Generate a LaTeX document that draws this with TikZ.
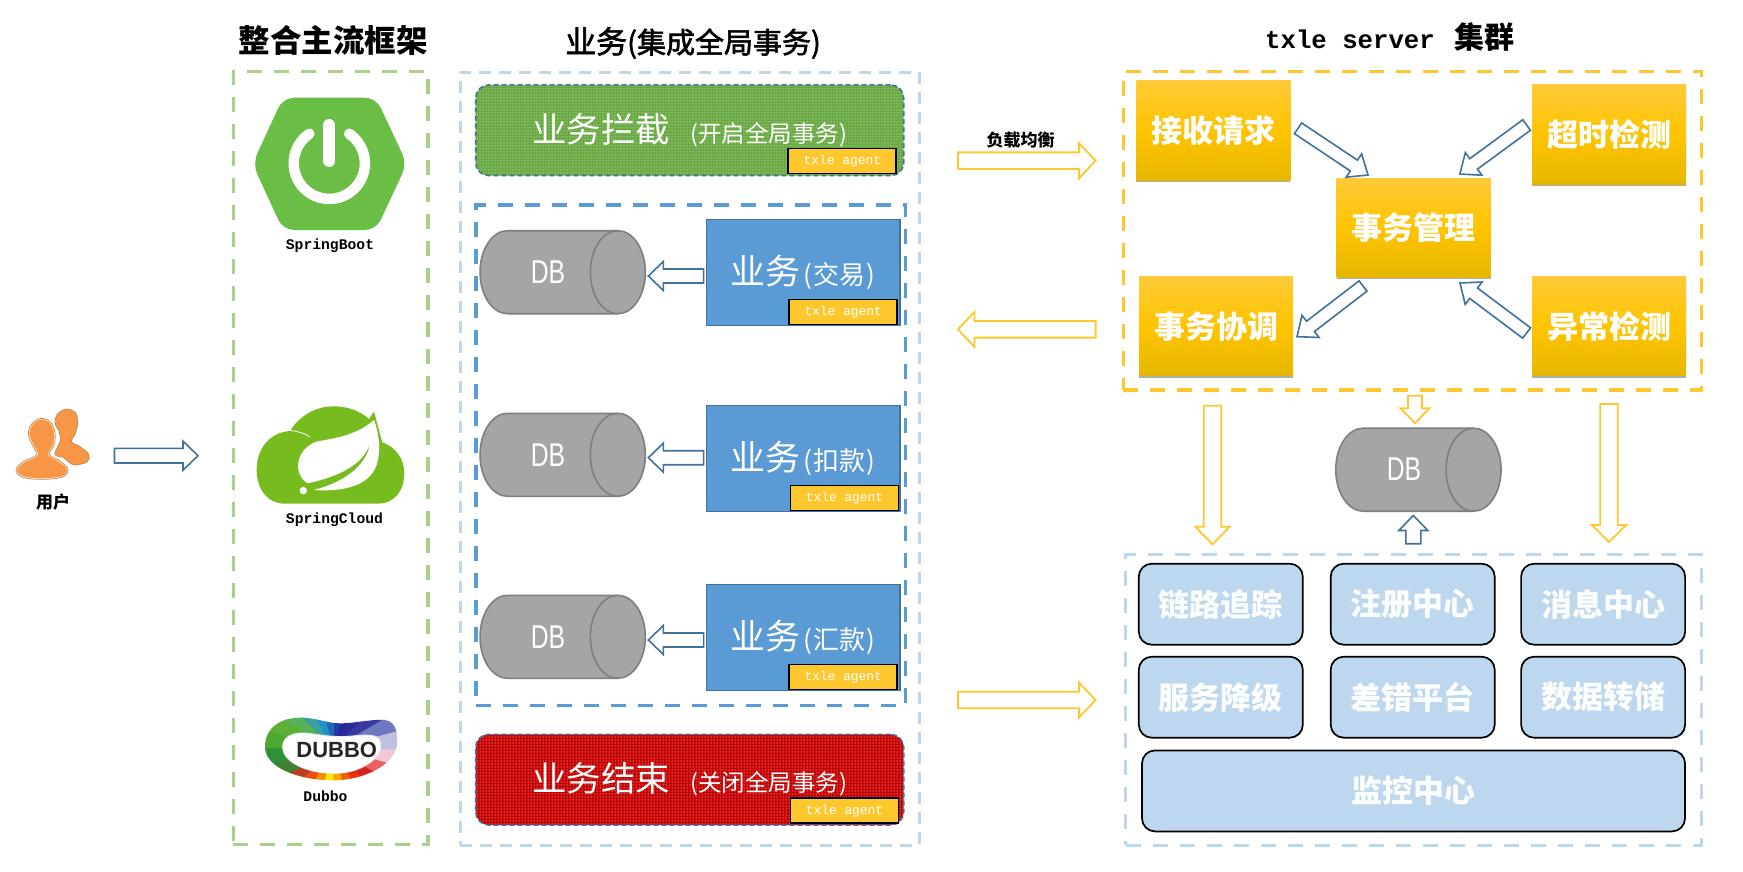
\documentclass[tikz,border=0pt]{standalone}
\usepackage{fontspec}
\usetikzlibrary{calc,patterns,shadows}
\newfontfamily\cjk{Noto Sans CJK SC}
\newfontfamily\cjkm[FakeBold=2]{Noto Sans CJK SC}
\newfontfamily\monof{Liberation Mono}
\newfontfamily\sansf{Liberation Sans}
\newcommand\fsz[1]{\fontsize{#1}{#1}\selectfont}
\definecolor{gframe}{HTML}{A9D18E}
\definecolor{lblue}{HTML}{BDD7EE}
\definecolor{mblue}{HTML}{5B9BD5}
\definecolor{dblue}{HTML}{41719C}
\definecolor{yline}{HTML}{FFC72E}
\definecolor{yframe}{HTML}{FFC72E}
\definecolor{ag}{HTML}{FFC72E}
\definecolor{goldtop}{HTML}{FFCA38}
\definecolor{goldmid}{HTML}{FFC400}
\definecolor{goldbot}{HTML}{E6B700}
\definecolor{dotgreen}{HTML}{68A942}
\definecolor{dotred}{HTML}{C60000}
\definecolor{cylf}{HTML}{A5A5A5}
\definecolor{cyld}{HTML}{7F7F7F}
\definecolor{sbg}{HTML}{6ABD45}
\definecolor{scg}{HTML}{77BC1F}
\definecolor{psn}{HTML}{F79646}
\definecolor{psnd}{HTML}{C98A4B}
\newcommand\blockarrow[6]{%
  \coordinate (ba) at (#2);
  \coordinate (bb) at (#3);
  \coordinate (bc) at ($(bb)!#6pt!(ba)$);
  \draw[#1] ($(ba)!#4pt!90:(bb)$) -- ($(bc)!#4pt!90:(bb)$) -- ($(bc)!#5pt!90:(bb)$) -- (bb)
    -- ($(bc)!#5pt!-90:(bb)$) -- ($(bc)!#4pt!-90:(bb)$) -- ($(ba)!#4pt!-90:(bb)$) -- cycle;}
% name, centre x, centre y
\newcommand\dbcyl[3]{%
  \node[inner sep=0pt,outer sep=0pt,minimum width=165.3pt,minimum height=83pt] (#1) at (#2,#3) {};
  \filldraw[cylstyle] ($(#1.north west)+(27.5,0)$) -- ($(#1.north east)+(-27.5,0)$)
    arc[start angle=90,end angle=-90,x radius=27.5pt,y radius=41.5pt]
    -- ($(#1.south west)+(27.5,0)$)
    arc[start angle=-90,end angle=-270,x radius=27.5pt,y radius=41.5pt] -- cycle;
  \draw[cylstyle,fill=none] ($(#1.north east)+(-27.5,0)$)
    arc[start angle=90,end angle=270,x radius=27.5pt,y radius=41.5pt];
}
\tikzset{
  frame/.style={draw=#1,line width=3.4pt,dash pattern=on 15pt off 12pt,inner sep=0pt,outer sep=0pt},
  dotbox/.style={preaction={fill=#1},pattern=dots,pattern color=white,draw=dblue,line width=1.6pt,
    dash pattern=on 5pt off 3pt,rounded corners=13pt,minimum width=428pt,minimum height=90.7pt,
    text=white,inner sep=0pt,outer sep=0pt,font=\cjk},
  bizbox/.style={fill=mblue,draw=dblue,line width=1.4pt,minimum width=193.3pt,minimum height=106pt,
    text=white,inner sep=0pt,outer sep=0pt,font=\cjk},
  agent/.style={fill=ag,draw=black,line width=1.7pt,minimum width=108pt,minimum height=25pt,
    text=white,inner sep=0pt,outer sep=0pt,font=\monof\fsz{12.9}},
  cylstyle/.style={fill=cylf,draw=cyld,line width=1.6pt},
  cyltext/.style={text=white,inner sep=0pt,font=\sansf\fsz{33}},
  goldbox/.style={top color=goldtop,bottom color=goldbot,middle color=goldmid,
    general shadow={fill=black!70,opacity=.45,shadow xshift=0pt,shadow yshift=-2.4pt},
    minimum width=154pt,minimum height=99pt,text=white,inner sep=0pt,outer sep=0pt,
    font=\cjk\bfseries\fsz{31}},
  svcbox/.style={fill=lblue,draw=black,line width=1.7pt,rounded corners=13pt,minimum width=164pt,
    minimum height=81pt,text=white!95!lblue,inner sep=0pt,outer sep=0pt,font=\cjk\bfseries\fsz{31}},
  bluearrow/.style={draw=dblue,fill=white,line width=1.6pt,line join=miter},
  yellowarrow/.style={draw=yline,fill=white,line width=1.8pt,line join=miter},
  titletext/.style={inner sep=0pt,font=\cjk\bfseries\fsz{30}},
  logotext/.style={inner sep=0pt,font=\monof\bfseries\fsz{14.7}},
}
\begin{document}
\begin{tikzpicture}[x=1pt,y=-1pt]
\useasboundingbox (0,0) rectangle (1743,872);
\fill[white] (0,0) rectangle (1743,872);

% ---- titles
\node[titletext] (t1) at (333,40.5) {\fsz{31.5}整合主流框架};
\node[titletext,font=\cjkm] (t2) at (693,43) {\fsz{31}业务\fsz{29}(集成全局事务)};
\node[titletext] (t3) at (1390,37) {{\monof\bfseries\fsz{25.7}txle server}\hspace{20pt}集群};

% ---- frames
\node[frame=gframe,minimum width=194.7pt,minimum height=773pt] (fa) at (330.7,458.2) {};
\node[frame=lblue,line width=3pt,dash pattern=on 12pt off 8pt,minimum width=459pt,minimum height=773.3pt] (fb) at (689.5,458.7) {};
\node[frame=mblue,minimum width=429.7pt,minimum height=500.3pt] (fc) at (690.9,455.2) {};
\node[frame=yframe,minimum width=578.3pt,minimum height=318.5pt] (fd) at (1412.6,230.7) {};
\node[frame=lblue,line width=3pt,minimum width=575.4pt,minimum height=290.7pt] (fe) at (1413.3,699.7) {};

% ---- user icon
\begin{scope}[shift={(0,395)},x=0.3333pt,y=-0.3333pt]
  \filldraw[fill=psn,draw=psnd,line width=.8pt] plot[smooth cycle,tension=.6] coordinates
    {(165,85) (172,58) (198,43) (225,52) (233,80) (226,115) (214,140) (240,155) (266,178) (262,200) (225,210) (205,200) (190,187) (165,178) (180,140) (178,110)};
  \filldraw[fill=psn,draw=white,line width=2pt] plot[smooth cycle,tension=.6] coordinates
    {(85,115) (97,85) (125,70) (152,82) (165,115) (162,150) (148,178) (175,195) (203,220) (190,245) (130,253) (70,247) (48,225) (70,200) (110,180) (97,150)};
  \draw[draw=psnd,line width=.8pt] plot[smooth cycle,tension=.6] coordinates
    {(85,115) (97,85) (125,70) (152,82) (165,115) (162,150) (148,178) (175,195) (203,220) (190,245) (130,253) (70,247) (48,225) (70,200) (110,180) (97,150)};
\end{scope}
\node[inner sep=0pt,font=\cjk\bfseries\fsz{17}] (user) at (53,502) {用户};
\coordinate (userout) at (114.5,455.7);
\coordinate (frameleft) at (198,455.7);
\blockarrow{bluearrow}{userout}{frameleft}{7.3}{14.5}{15}

% ---- Spring Boot logo
\fill[sbg,rounded corners=11pt] (252.5,163.8) -- (283,97.7) -- (376,97.7) -- (407,163.8) -- (376,230) -- (283,230) -- cycle;
\draw[white,line width=10.5pt,line cap=round] (349.2,133.8) arc[start angle=56,end angle=-236,radius=35.6pt];
\draw[white,line width=12pt,line cap=round] (329.3,125) -- (329.3,161);
\node[logotext] (lboot) at (330,245.5) {SpringBoot};

% ---- Spring Cloud logo
\begin{scope}[shift={(245,395)},x=0.3333pt,y=-0.3333pt]
  \fill[scg] (120,326) .. controls (65,326) and (35,280) .. (35,225) .. controls (35,160) and (75,112) .. (135,108)
    .. controls (165,60) and (215,34) .. (265,34) .. controls (310,34) and (345,48) .. (372,72) -- (387,50) -- (412,142)
    .. controls (450,155) and (478,190) .. (478,235) .. controls (478,290) and (445,326) .. (400,326) -- cycle;
  \fill[white] (387,75) .. controls (330,125) and (260,130) .. (215,140) .. controls (170,155) and (155,195) .. (160,225)
    .. controls (165,245) and (175,258) .. (188,265) .. controls (280,245) and (355,210) .. (375,145)
    .. controls (365,215) and (290,265) .. (205,285) .. controls (280,290) and (370,280) .. (395,210)
    .. controls (410,160) and (400,110) .. (387,75) -- cycle;
  \fill[white] (175,287) circle[radius=3.7pt];
  \draw[white,line width=.8pt] (135,106) .. controls (155,108) and (180,115) .. (195,126);
\end{scope}
\node[logotext] (lcloud) at (334.5,519.8) {SpringCloud};

% ---- Dubbo logo
\begin{scope}[shift={(250,705)},x=0.3333pt,y=-0.3333pt]
  \begin{scope}
    \clip (45,125) .. controls (45,70) and (90,38) .. (150,38) .. controls (200,38) and (230,55) .. (270,55)
      .. controls (320,55) and (360,42) .. (405,45) .. controls (440,50) and (445,90) .. (440,125)
      .. controls (432,175) and (350,225) .. (250,226) .. controls (150,226) and (45,190) .. (45,125) -- cycle;
    \foreach \a/\c in {0/F0C8D8,15/E86060,30/D82020,45/E83010,60/EE6008,75/F4A800,90/FFE800,105/F49000,120/E85010,135/B84020,150/408030,165/309038,180/4CA830,195/5CB038,210/58B058,225/38A0A0,240/2090C8,255/2068B8,270/2040A8,285/2828A0,300/2A2A9C,315/3838A0,330/7078C0,345/C0C0E0}{
      \definecolor{wc}{HTML}{\c}
      \fill[wc] (250,130) -- +(\a:400) -- +(\a+16:400) -- cycle;
    }
  \end{scope}
  \filldraw[fill=white,draw=black!8,line width=1pt] (98,125) .. controls (98,95) and (130,80) .. (175,85) .. controls (210,90) and (240,95) .. (275,95)
    .. controls (310,95) and (350,85) .. (378,95) .. controls (400,108) and (395,140) .. (375,160)
    .. controls (345,190) and (300,205) .. (250,205) .. controls (180,205) and (98,175) .. (98,125) -- cycle;
\end{scope}
\node[inner sep=0pt,text=black!85,font=\sansf\bfseries\fsz{22}] (ldubbotext) at (336.7,750) {DUBBO};
\node[logotext] (ldubbo) at (325.5,796.5) {Dubbo};

% ---- global transaction bars
\node[dotbox=dotgreen] (begin) at (689.7,130.3) {\fsz{34.5}业务拦截\hspace{20pt}\fsz{23.5}(开启全局事务)};
\node[dotbox=dotred] (finish) at (689.7,779.7) {\fsz{34.5}业务结束\hspace{20pt}\fsz{23.5}(关闭全局事务)};
\node[agent] (ag0) at (842.3,161) {txle agent};
\node[agent] (ag4) at (844.5,810.7) {txle agent};

% ---- business rows
\node[bizbox] (biz1) at (803.2,272.3) {\fsz{35}业务\fsz{26}\hspace{3pt}(\hspace{1pt}交易\hspace{1pt})};
\node[bizbox] (biz2) at (803.2,458.2) {\fsz{35}业务\fsz{26}\hspace{3pt}(\hspace{1pt}扣款\hspace{1pt})};
\node[bizbox] (biz3) at (803.2,637.3) {\fsz{35}业务\fsz{26}\hspace{3pt}(\hspace{1pt}汇款\hspace{1pt})};
\node[agent] (ag1) at (843.2,312) {txle agent};
\node[agent] (ag2) at (844.5,498) {txle agent};
\node[agent] (ag3) at (843.2,677) {txle agent};
\dbcyl{db1}{562.7}{272.2}
\dbcyl{db2}{562.7}{454.8}
\dbcyl{db3}{562.7}{636.8}
\node[cyltext] (db1t) at (548,272) {\scalebox{.75}[1]{DB}};
\node[cyltext] (db2t) at (548,455) {\scalebox{.75}[1]{DB}};
\node[cyltext] (db3t) at (548,637) {\scalebox{.75}[1]{DB}};
\blockarrow{bluearrow}{$(biz1.west)+(-3,3.7)$}{$(db1.east)+(3,3.8)$}{7}{14.5}{15}
\blockarrow{bluearrow}{$(biz2.west)+(-3,-0.5)$}{$(db2.east)+(3,2.9)$}{7}{14.5}{15}
\blockarrow{bluearrow}{$(biz3.west)+(-3,2.7)$}{$(db3.east)+(3,3.2)$}{7}{14.5}{15}

% ---- arrows between business and server
\node[inner sep=0pt,font=\cjk\bfseries\fsz{17}] (lb) at (1020.7,140) {负载均衡};
\coordinate (a1s) at (958,160.7);   \coordinate (a1e) at (1095.6,160.7);
\coordinate (a2s) at (1095.6,329.3);\coordinate (a2e) at (958,329.3);
\coordinate (a3s) at (958,700);     \coordinate (a3e) at (1095.6,700);
\blockarrow{yellowarrow}{a1s}{a1e}{8.3}{17.5}{16.5}
\blockarrow{yellowarrow}{a2s}{a2e}{8.3}{17.5}{16.5}
\blockarrow{yellowarrow}{a3s}{a3e}{8.3}{17.5}{16.5}

% ---- server cluster
\node[goldbox] (recv) at (1213.4,130.5) {接收请求};
\node[goldbox] (tout) at (1609,134.5) {超时检测};
\node[goldbox] (mgr) at (1413.7,227.5) {事务管理};
\node[goldbox] (coord) at (1216,326.3) {事务协调};
\node[goldbox] (exc) at (1609,326.3) {异常检测};
\coordinate (d1s) at (1298,128.3);\coordinate (d1e) at (1368,175);
\coordinate (d2s) at (1526.6,125);\coordinate (d2e) at (1459.9,174);
\coordinate (d3s) at (1363,286);  \coordinate (d3e) at (1297,336.7);
\coordinate (d4s) at (1526.6,333);\coordinate (d4e) at (1460,283);
\blockarrow{bluearrow}{d1s}{d1e}{6.5}{14}{17}
\blockarrow{bluearrow}{d2s}{d2e}{6.5}{14}{17}
\blockarrow{bluearrow}{d3s}{d3e}{6.5}{14}{17}
\blockarrow{bluearrow}{d4s}{d4e}{6.5}{14}{17}

% ---- central DB
\dbcyl{db4}{1418.4}{469.7}
\node[cyltext] (db4t) at (1404,469) {\scalebox{.75}[1]{DB}};
\blockarrow{yellowarrow}{1415,395.7}{$(db4.north)+(-3.4,-5)$}{7}{14.5}{15}
\blockarrow{bluearrow}{1413.3,543.7}{$(db4.south)+(-5.1,4.3)$}{7.5}{14.5}{15}
\blockarrow{yellowarrow}{1212.5,405.7}{1212.5,544.3}{8.8}{17.2}{17.6}
\blockarrow{yellowarrow}{1609,404}{1609,542}{8.8}{17.2}{17}

% ---- platform services
\node[svcbox] (s1) at (1220.8,604.2) {链路追踪};
\node[svcbox] (s2) at (1412.7,604.2) {注册中心};
\node[svcbox] (s3) at (1603.1,604.2) {消息中心};
\node[svcbox] (s4) at (1220.8,697.2) {服务降级};
\node[svcbox] (s5) at (1412.7,697.2) {差错平台};
\node[svcbox] (s6) at (1603.1,697.2) {数据转储};
\node[svcbox,minimum width=543pt] (s7) at (1413.5,790.9) {监控中心};
\end{tikzpicture}
\end{document}
